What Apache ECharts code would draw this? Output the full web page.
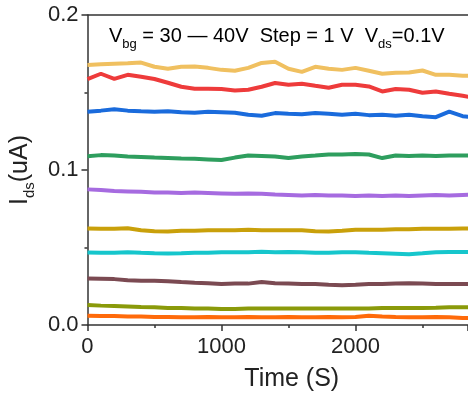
<!DOCTYPE html>
<html>
<head>
<meta charset="utf-8">
<script src="https://cdn.jsdelivr.net/npm/echarts@6/dist/echarts.min.js"></script>
<style>
html,body{margin:0;padding:0;background:#fff;}
#chart{width:468px;height:397px;}
</style>
</head>
<body>
<div id="chart"></div>
<script>
// Time axis (s)
var times = [0,100,200,300,400,500,600,700,800,900,1000,1100,1200,1300,1400,1500,1600,1700,1800,1900,2000,2100,2200,2300,2400,2500,2600,2700,2800,2900];

// Ids (uA) for each gate voltage step
var sYellow = [0.1678,0.1682,0.1685,0.1688,0.1693,0.1666,0.1653,0.1666,0.1668,0.1659,0.1646,0.1640,0.1659,0.1691,0.1698,0.1653,0.1633,0.1666,0.1653,0.1646,0.1659,0.1640,0.1621,0.1627,0.1629,0.1642,0.1614,0.1614,0.1608,0.1608];
var sRed    = [0.1587,0.1621,0.1588,0.1614,0.1601,0.1587,0.1563,0.1537,0.1524,0.1524,0.1522,0.1513,0.1518,0.1537,0.1561,0.1550,0.1556,0.1543,0.1531,0.1550,0.1550,0.1539,0.1507,0.1522,0.1518,0.1498,0.1507,0.1492,0.1479,0.1464];
var sBlue   = [0.1376,0.1383,0.1392,0.1383,0.1379,0.1376,0.1379,0.1373,0.1370,0.1376,0.1373,0.1370,0.1357,0.1350,0.1367,0.1363,0.1360,0.1367,0.1363,0.1357,0.1363,0.1354,0.1357,0.1350,0.1357,0.1347,0.1341,0.1376,0.1347,0.1338];
var sGreen  = [0.1089,0.1096,0.1093,0.1087,0.1084,0.1080,0.1077,0.1074,0.1072,0.1068,0.1064,0.1080,0.1093,0.1090,0.1087,0.1078,0.1087,0.1093,0.1100,0.1100,0.1103,0.1100,0.1077,0.1093,0.1090,0.1093,0.1090,0.1093,0.1093,0.1093];
var sPurple = [0.0875,0.0871,0.0865,0.0862,0.0859,0.0855,0.0855,0.0852,0.0855,0.0852,0.0849,0.0846,0.0849,0.0846,0.0842,0.0839,0.0836,0.0839,0.0836,0.0836,0.0833,0.0836,0.0833,0.0836,0.0833,0.0836,0.0839,0.0836,0.0839,0.0842];
var sGold   = [0.0622,0.0621,0.0621,0.0624,0.0611,0.0605,0.0603,0.0608,0.0608,0.0611,0.0611,0.0611,0.0614,0.0611,0.0611,0.0611,0.0611,0.0605,0.0603,0.0608,0.0614,0.0614,0.0614,0.0617,0.0617,0.0621,0.0621,0.0621,0.0622,0.0622];
var sCyan   = [0.0468,0.0466,0.0466,0.0470,0.0466,0.0463,0.0461,0.0463,0.0466,0.0466,0.0470,0.0470,0.0470,0.0473,0.0470,0.0471,0.0470,0.0466,0.0466,0.0470,0.0470,0.0466,0.0463,0.0460,0.0457,0.0463,0.0470,0.0471,0.0471,0.0471];
var sBrown  = [0.0300,0.0299,0.0296,0.0289,0.0285,0.0286,0.0283,0.0277,0.0273,0.0270,0.0264,0.0267,0.0267,0.0277,0.0270,0.0267,0.0264,0.0264,0.0260,0.0257,0.0260,0.0264,0.0264,0.0267,0.0270,0.0267,0.0264,0.0264,0.0264,0.0264];
var sOlive  = [0.0129,0.0125,0.0122,0.0119,0.0116,0.0114,0.0109,0.0109,0.0106,0.0106,0.0103,0.0103,0.0106,0.0107,0.0107,0.0106,0.0107,0.0107,0.0106,0.0107,0.0107,0.0107,0.0109,0.0109,0.0109,0.0109,0.0111,0.0114,0.0114,0.0114];
var sOrange = [0.0060,0.0058,0.0058,0.0055,0.0055,0.0051,0.0051,0.0050,0.0050,0.0051,0.0050,0.0050,0.0051,0.0050,0.0050,0.0051,0.0050,0.0050,0.0051,0.0050,0.0051,0.0060,0.0055,0.0051,0.0050,0.0050,0.0051,0.0050,0.0045,0.0045];

var seriesList = [sOrange, sOlive, sBrown, sCyan, sGold, sPurple, sGreen, sBlue, sRed, sYellow];
var colors = ['#FF6A0A','#8A9A0A','#7B4A52','#16C6CC','#C9A00A','#A66BE0','#2E9E5E','#1A6BDC','#EE3B3B','#F0C060'];

var xTicks = [0, 1000, 2000];
var yTicks = [0.0, 0.1, 0.2];

var font = 'Liberation Sans, Arial, sans-serif';
var chart = echarts.init(document.getElementById('chart'), null, {renderer: 'canvas'});

var series = seriesList.map(function (vals, i) {
  return {
    type: 'line',
    xAxisIndex: 0,
    data: times.map(function (t, j) { return [t, vals[j]]; }),
    showSymbol: false,
    symbol: 'none',
    lineStyle: {color: colors[i], width: 4},
    itemStyle: {color: colors[i]},
    animation: false,
    z: 2
  };
});

var axisColor = '#333';

chart.setOption({
  backgroundColor: '#fff',
  animation: false,
  grid: {left: 86, top: 15, right: 0, bottom: 71, show: false},
  graphic: [{
    type: 'text',
    left: 109,
    top: 26,
    style: {
      text: '{n|V}{s|bg}{n| = 30 — 40V  Step = 1 V  V}{s|ds}{n|=0.1V}',
      rich: {
        n: {fontSize: 20, fontFamily: font, color: '#222', lineHeight: 21, verticalAlign: 'top'},
        s: {fontSize: 13, fontFamily: font, color: '#222', lineHeight: 13, padding: [12, 0, 0, 0], verticalAlign: 'top'}
      }
    }
  }],
  xAxis: [{
    type: 'value',
    position: 'bottom',
    min: 0, max: 2840, interval: 1000,
    name: 'Time (S)',
    nameLocation: 'middle',
    nameGap: 42,
    nameTextStyle: {fontSize: 25, fontFamily: font, color: '#222', padding: [0, 0, 0, 28]},
    axisLine: {show: true, onZero: false, lineStyle: {color: axisColor, width: 1.5}},
    axisTick: {show: true, inside: false, length: 6, lineStyle: {color: axisColor, width: 1.5}},
    minorTick: {show: true, splitNumber: 2, length: 3, lineStyle: {color: axisColor, width: 1.5}},
    axisLabel: {fontSize: 22, fontFamily: font, color: '#222', margin: 11, showMaxLabel: false,
      formatter: function (v) { return xTicks.indexOf(v) >= 0 ? String(v) : ''; }},
    splitLine: {show: false}
  }, {
    type: 'value',
    position: 'top',
    min: 0, max: 2840,
    axisLine: {show: true, onZero: false, lineStyle: {color: axisColor, width: 1.5}},
    axisTick: {show: false},
    axisLabel: {show: false},
    splitLine: {show: false}
  }],
  yAxis: {
    type: 'value',
    min: 0, max: 0.2, interval: 0.1,
    name: '{n|I}{s|ds}{n|(uA)}',
    nameLocation: 'middle',
    nameRotate: 90,
    nameGap: 46,
    nameTextStyle: {
      rich: {
        n: {fontSize: 25, fontFamily: font, color: '#222', lineHeight: 26, verticalAlign: 'top'},
        s: {fontSize: 15, fontFamily: font, color: '#222', lineHeight: 15, padding: [14, 0, 0, 0], verticalAlign: 'top'}
      }
    },
    axisLine: {show: true, onZero: false, lineStyle: {color: axisColor, width: 1.5}},
    axisTick: {show: true, inside: false, length: 6, lineStyle: {color: axisColor, width: 1.5}},
    minorTick: {show: true, splitNumber: 2, length: 3, lineStyle: {color: axisColor, width: 1.5}},
    axisLabel: {fontSize: 22, fontFamily: font, color: '#222', margin: 9,
      formatter: function (v) { return v.toFixed(1); }},
    splitLine: {show: false}
  },
  series: series
});
</script>
</body>
</html>
